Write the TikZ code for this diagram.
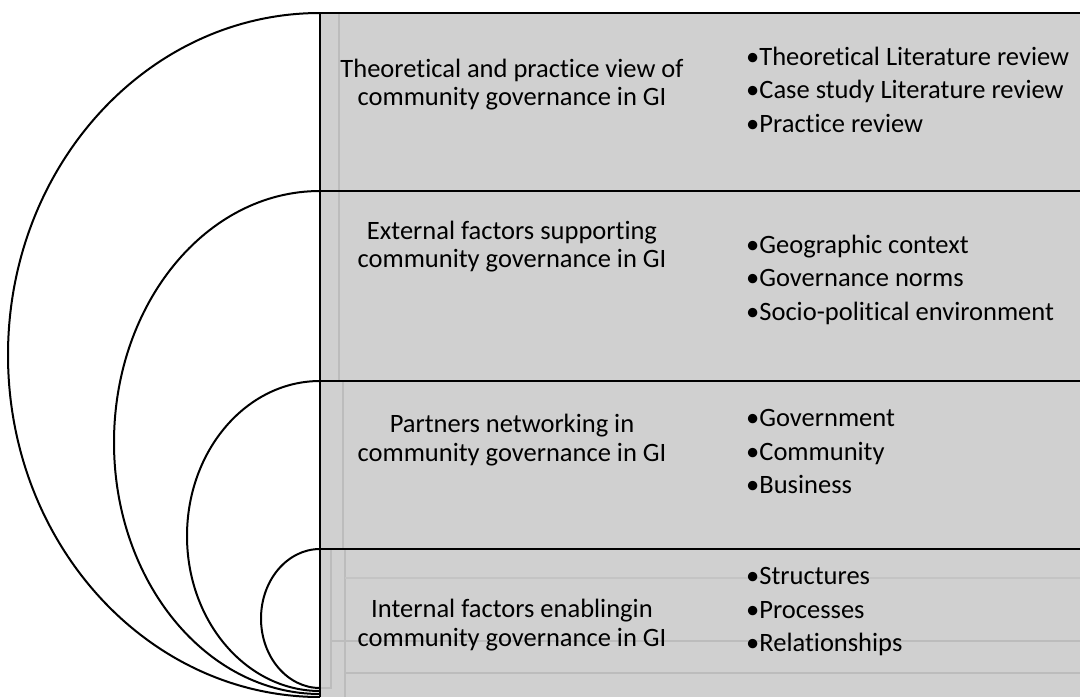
\documentclass[tikz,border=0pt]{standalone}
\usepackage{fontspec}
\setmainfont{Carlito}[Ligatures={NoCommon}]
\usepackage{tikz}
\usetikzlibrary{positioning}
\definecolor{bandgray}{HTML}{D0D0D0}
\definecolor{seamgray}{HTML}{BCBCBC}

\begin{document}
\begin{tikzpicture}[x=1pt, y=-1pt,
  ring/.style={draw=black, line width=2pt},
  seam/.style={draw=seamgray, line width=1.6pt},
  topic/.style={align=center, inner sep=0pt, font=\fontsize{26.5}{28.5}\selectfont},
  items/.style={align=left, inner sep=0pt, anchor=west, font=\fontsize{26.5}{33.5}\selectfont}]
  \useasboundingbox (0,0) rectangle (1080,697);

  % Gray bands
  \fill[bandgray] (320,13) rectangle (1080,697);
  \draw[seam] (339,13) -- (339,191);
  \draw[seam] (339,191) -- (339,381);
  \draw[seam] (343,381) -- (343,549);
  \draw[seam] (331,549) -- (331,688) -- (320,688);
  \draw[seam] (345,549) -- (345,697);
  \draw[seamgray!60!bandgray, line width=1.6pt] (345,578) -- (1080,578);
  \draw[seam] (331,641) -- (1080,641);
  \draw[seam] (345,673) -- (1080,673);

  % Band borders
  \draw[ring] (320,13) -- (1080,13);
  \draw[ring] (320,191) -- (1080,191);
  \draw[ring] (320,381) -- (1080,381);
  \draw[ring] (320,549) -- (1080,549);
  \draw[ring] (320,13) -- (320,697);

  % Nested arcs
  \draw[ring] (320,13) arc[start angle=270, end angle=90, x radius=312, y radius=342];
  \draw[ring] (320,191) arc[start angle=270, end angle=90, x radius=206, y radius=251.5];
  \draw[ring] (320,381) arc[start angle=270, end angle=90, x radius=133, y radius=155];
  \draw[ring] (320,549) arc[start angle=270, end angle=90, x radius=59, y radius=69.5];

  % Band 1
  \node[topic] (theory) at (512,84.5) {Theoretical and practice view of\\community governance in GI};
  \node[items] (theorylist) at (746,89.5) {\textbullet Theoretical Literature review\\\textbullet Case study Literature review\\\textbullet Practice review};

  % Band 2
  \node[topic] (external) at (512,246.5) {External factors supporting\\community governance in GI};
  \node[items] (externallist) at (746,279.5) {\textbullet Geographic context\\\textbullet Governance norms\\\textbullet Socio-political environment};

  % Band 3
  \node[topic] (partners) at (512,440) {Partners networking in\\community governance in GI};
  \node[items] (partnerslist) at (746,451.5) {\textbullet Government\\\textbullet Community\\\textbullet Business};

  % Band 4
  \node[topic] (internal) at (512,625) {Internal factors enablingin\\community governance in GI};
  \node[items] (internallist) at (746,612) {\textbullet Structures\\\textbullet Processes\\\textbullet Relationships};
\end{tikzpicture}
\end{document}
